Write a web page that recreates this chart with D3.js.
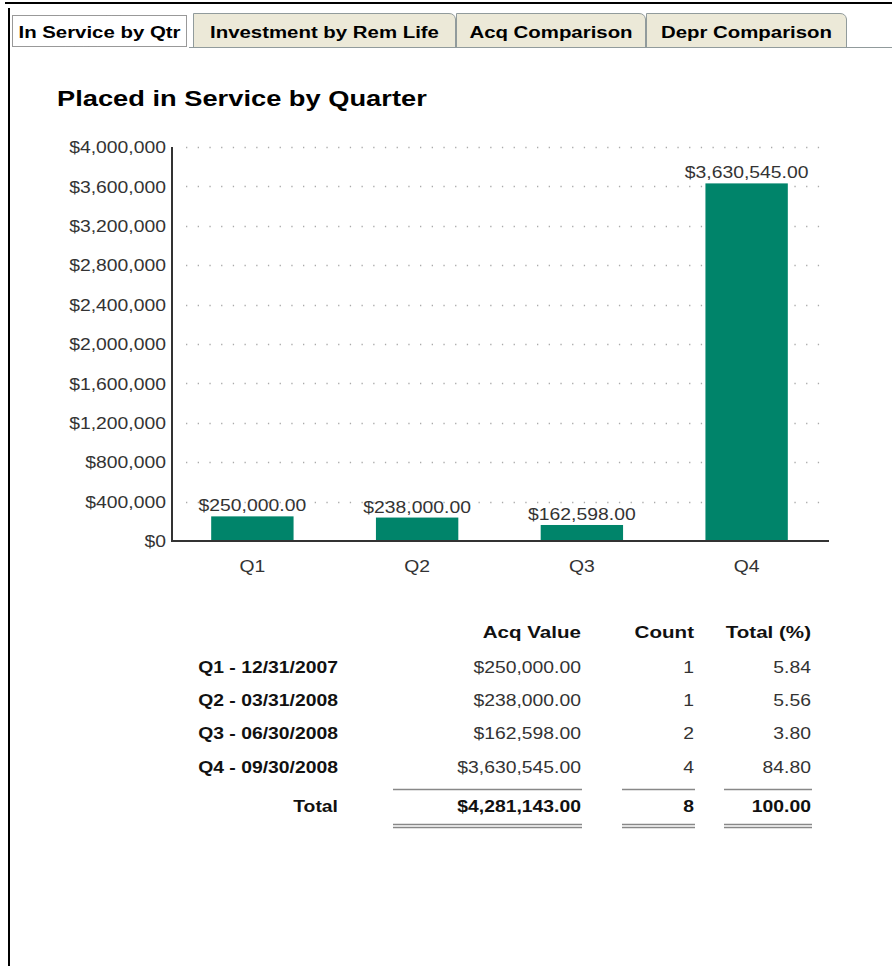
<!DOCTYPE html>
<html>
<head>
<meta charset="utf-8">
<script src="https://cdn.jsdelivr.net/npm/d3@7"></script>
<style>
  html, body { margin: 0; padding: 0; background: #fff; }
  svg { display: block; }
  text { font-family: "Liberation Sans", Arial, sans-serif; }
</style>
</head>
<body>
<svg id="chart" width="892" height="966"></svg>
<script>
// ---- data ----
const tabs = ["In Service by Qtr", "Investment by Rem Life", "Acq Comparison", "Depr Comparison"];
const chartTitle = "Placed in Service by Quarter";
const quarters = ["Q1", "Q2", "Q3", "Q4"];
const acqValues = [250000, 238000, 162598, 3630545];
const rowLabels = ["Q1 - 12/31/2007", "Q2 - 03/31/2008", "Q3 - 06/30/2008", "Q4 - 09/30/2008"];
const counts = [1, 1, 2, 4];
const percents = [5.84, 5.56, 3.80, 84.80];
const yTicks = [0, 400000, 800000, 1200000, 1600000, 2000000, 2400000, 2800000, 3200000, 3600000, 4000000];
const tableHeaders = ["Acq Value", "Count", "Total (%)"];

const svg = d3.select("#chart");
const money2 = d3.format("$,.2f");
const money0 = d3.format("$,.0f");
const SX = 1.21; // horizontal stretch of the reference text

function stretch(sel, s = SX) {
  sel.each(function () {
    const t = d3.select(this);
    const xv = +(t.attr("x") || 0);
    t.attr("transform", `translate(${xv * (1 - s)},0) scale(${s},1)`);
  });
  return sel;
}

// ---- frame ----
svg.append("rect").attr("x", 5).attr("y", 2).attr("width", 887).attr("height", 2).attr("fill", "#000");
svg.append("rect").attr("x", 8).attr("y", 8).attr("width", 2).attr("height", 958).attr("fill", "#000");

// ---- tabs ----
const tabX = [10, 193, 456, 646, 847];
const tabG = svg.append("g");
tabG.append("line").attr("x1", 189).attr("x2", 892).attr("y1", 47.5).attr("y2", 47.5).attr("stroke", "#919b9c");
tabs.forEach((t, i) => {
  const x0 = tabX[i], x1 = (i === 0 ? 189 : tabX[i + 1]);
  if (i === 0) {
    tabG.append("rect").attr("x", x0).attr("y", 10).attr("width", x1 - x0).attr("height", 38).attr("fill", "#fff");
    tabG.append("rect").attr("x", 12.5).attr("y", 15.5).attr("width", 174).attr("height", 31)
      .attr("fill", "none").attr("stroke", "#333").attr("stroke-dasharray", "1,1");
  } else {
    const y0 = 13, y1 = 47;
    const p = `M${x0 + 0.5},${y1} L${x0 + 0.5},${y0 + 0.5} L${x1 - 7},${y0 + 0.5} Q${x1 - 1.5},${y0 + 0.5} ${x1 - 0.5},${y0 + 6} L${x1 - 0.5},${y1}`;
    tabG.append("path").attr("d", p).attr("fill", "#ece9d8").attr("stroke", "#919b9c");
  }
  const tt = tabG.append("text").attr("x", (x0 + x1) / 2).attr("y", 38).attr("text-anchor", "middle")
    .attr("font-size", 17).attr("font-weight", "bold").attr("fill", "#000").text(t);
  stretch(tt, 1.2);
});

// ---- title ----
stretch(svg.append("text").attr("x", 57).attr("y", 106).attr("font-size", 22).attr("font-weight", "bold")
  .attr("fill", "#000").text(chartTitle), 1.24);

// ---- chart ----
const x = d3.scaleBand().domain(quarters).range([170, 829]).paddingInner(0.5).paddingOuter(0.25);
const y = d3.scaleLinear().domain([0, 4000000]).range([541, 147]);

// grid
svg.append("g").selectAll("line").data(yTicks.filter(d => d > 0)).join("line")
  .attr("x1", 186).attr("x2", 829).attr("y1", d => Math.round(y(d)) + 0.5).attr("y2", d => Math.round(y(d)) + 0.5)
  .attr("stroke", "#aaa").attr("stroke-width", 1.3).attr("stroke-dasharray", "1.3,10.4");

// y axis
const yAxis = d3.axisLeft(y).tickValues(yTicks).tickFormat(money0).tickSize(0).tickPadding(6);
const yg = svg.append("g").attr("transform", "translate(172,0)").call(yAxis);
yg.select(".domain").remove();
yg.selectAll("text").attr("font-size", 16).attr("fill", "#333")
  .attr("font-family", "'Liberation Sans', Arial, sans-serif").attr("dy", "0.35em");
stretch(yg.selectAll("text"));

// bars
svg.append("g").selectAll("rect").data(quarters).join("rect")
  .attr("x", d => x(d)).attr("width", x.bandwidth())
  .attr("y", (d, i) => y(acqValues[i])).attr("height", (d, i) => y(0) - y(acqValues[i]))
  .attr("fill", "#00846a");

// value labels
stretch(svg.append("g").selectAll("text").data(quarters).join("text")
  .attr("x", d => x(d) + x.bandwidth() / 2).attr("y", (d, i) => y(acqValues[i]) - 5)
  .attr("text-anchor", "middle").attr("font-size", 16).attr("fill", "#333")
  .text((d, i) => money2(acqValues[i])));

// axes lines
svg.append("line").attr("x1", 172).attr("x2", 172).attr("y1", 147).attr("y2", 542).attr("stroke", "#333").attr("stroke-width", 2);
svg.append("line").attr("x1", 171).attr("x2", 829).attr("y1", 541).attr("y2", 541).attr("stroke", "#333").attr("stroke-width", 2);

// x axis labels
const xAxis = d3.axisBottom(x).tickSize(0).tickPadding(20);
const xg = svg.append("g").attr("transform", "translate(0,541)").call(xAxis);
xg.select(".domain").remove();
xg.selectAll("text").attr("font-size", 16).attr("fill", "#333")
  .attr("font-family", "'Liberation Sans', Arial, sans-serif");
stretch(xg.selectAll("text"));

// ---- table ----
const colRight = [581, 694, 811];
const rowY = [673, 706, 739, 773];
const tg = svg.append("g");
stretch(tg.selectAll("text.hdr").data(tableHeaders).join("text").attr("class", "hdr")
  .attr("x", (d, i) => colRight[i]).attr("y", 638).attr("text-anchor", "end")
  .attr("font-size", 17).attr("font-weight", "bold").attr("fill", "#111").text(d => d));

rowLabels.forEach((lab, i) => {
  const cells = [money2(acqValues[i]), String(counts[i]), percents[i].toFixed(2)];
  stretch(tg.append("text").attr("x", 338).attr("y", rowY[i]).attr("text-anchor", "end")
    .attr("font-size", 16).attr("font-weight", "bold").attr("fill", "#111").text(lab));
  cells.forEach((c, j) => {
    stretch(tg.append("text").attr("x", colRight[j]).attr("y", rowY[i]).attr("text-anchor", "end")
      .attr("font-size", 16).attr("fill", "#333").text(c));
  });
});

const totals = [money2(d3.sum(acqValues)), String(d3.sum(counts)), d3.sum(percents).toFixed(2)];
stretch(tg.append("text").attr("x", 338).attr("y", 812).attr("text-anchor", "end")
  .attr("font-size", 16).attr("font-weight", "bold").attr("fill", "#111").text("Total"));
totals.forEach((c, j) => {
  stretch(tg.append("text").attr("x", colRight[j]).attr("y", 812).attr("text-anchor", "end")
    .attr("font-size", 16).attr("font-weight", "bold").attr("fill", "#111").text(c));
});
const colLeft = [393, 622, 724];
colLeft.forEach((l, j) => {
  const r = colRight[j] + 1;
  tg.append("line").attr("x1", l).attr("x2", r).attr("y1", 789.5).attr("y2", 789.5).attr("stroke", "#888").attr("stroke-width", 1.5);
  tg.append("line").attr("x1", l).attr("x2", r).attr("y1", 824.5).attr("y2", 824.5).attr("stroke", "#888").attr("stroke-width", 1.5);
  tg.append("line").attr("x1", l).attr("x2", r).attr("y1", 827.5).attr("y2", 827.5).attr("stroke", "#888").attr("stroke-width", 1.5);
});
</script>
</body>
</html>
